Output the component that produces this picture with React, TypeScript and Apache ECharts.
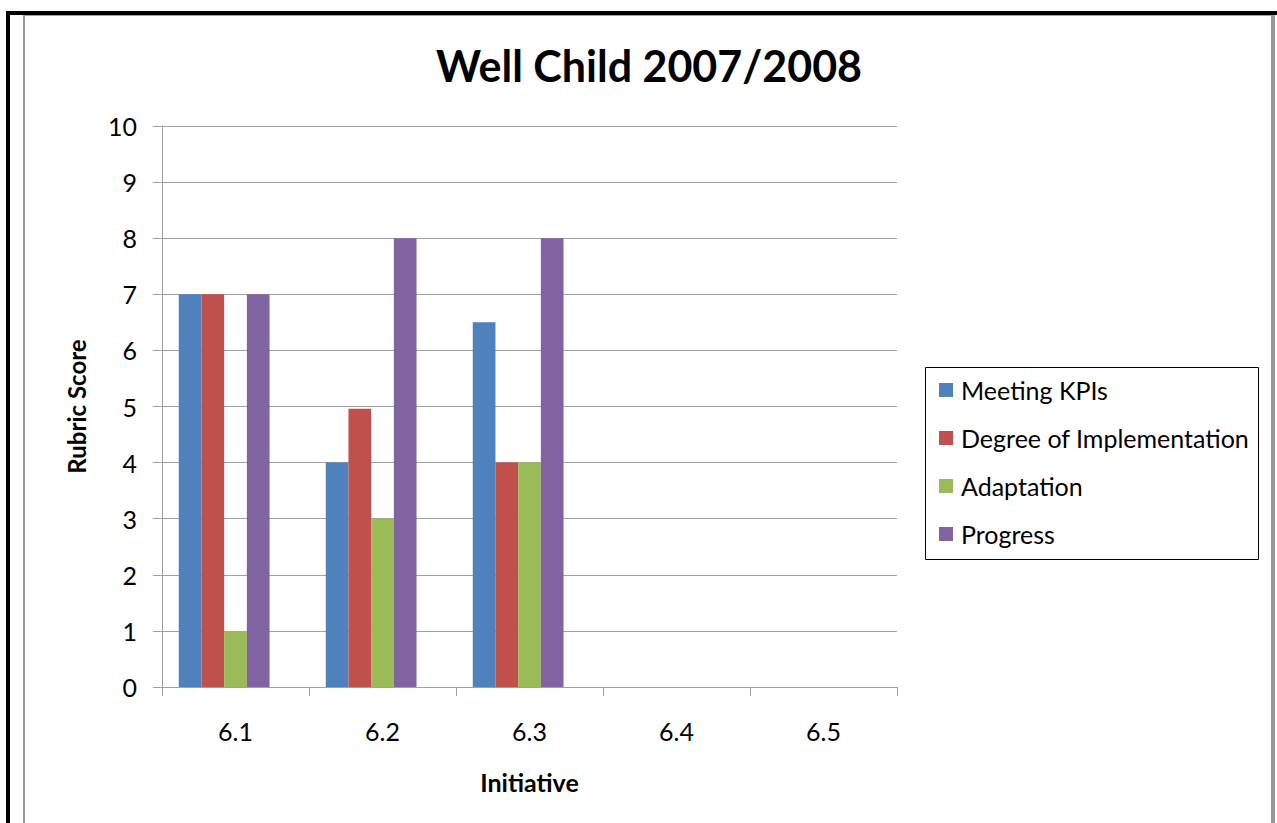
import React, { useEffect, useRef } from "react";
import * as echarts from "echarts";

// Initiatives along the category axis
const initiatives = ["6.1", "6.2", "6.3", "6.4", "6.5"];

// Rubric scores per measure (6.4 and 6.5 not yet scored)
const meetingKpis = [7, 4, 6.5, null, null];
const degreeOfImplementation = [7, 4.96, 4, null, null];
const adaptation = [1, 3, 4, null, null];
const progress = [7, 8, 8, null, null];
// fifth measure slot, reserved but still empty
const reserved = [null, null, null, null, null];

const seriesNames = ["Meeting KPIs", "Degree of Implementation", "Adaptation", "Progress"];
const seriesColors = ["#4F81BD", "#C0504D", "#9BBB59", "#8064A2", "#4BACC6"];

const FONT = "Lato";
const TEXT_SIZE = 25;

export default function App() {
  const ref = useRef<HTMLDivElement>(null);

  useEffect(() => {
    if (!ref.current) return;
    const chart = echarts.init(ref.current, null, { renderer: "svg" });
    const values = [meetingKpis, degreeOfImplementation, adaptation, progress, reserved];
    const names = [...seriesNames, "Reserved"];

    chart.setOption({
      animation: false,
      backgroundColor: "#ffffff",
      textStyle: { fontFamily: FONT },
      graphic: [
        // sheet frame
        { type: "rect", shape: { x: 6, y: 11, width: 1271, height: 4 }, style: { fill: "#000" }, silent: true },
        { type: "rect", shape: { x: 6, y: 11, width: 4, height: 812 }, style: { fill: "#000" }, silent: true },
        { type: "rect", shape: { x: 23, y: 15, width: 1252, height: 1 }, style: { fill: "#a0a0a0" }, silent: true },
        { type: "rect", shape: { x: 23, y: 15, width: 2, height: 808 }, style: { fill: "#999" }, silent: true },
        { type: "rect", shape: { x: 1271, y: 15, width: 4, height: 808 }, style: { fill: "#999" }, silent: true },
        // legend box
        {
          type: "rect",
          shape: { x: 925.5, y: 367.5, width: 333, height: 192 },
          style: { fill: "none", stroke: "#000", lineWidth: 1 },
          silent: true,
        },
        // chart title
        {
          type: "text",
          x: 649,
          y: 65,
          style: {
            text: "Well Child 2007/2008",
            fontFamily: FONT,
            fontWeight: "bold",
            fontSize: 43,
            fill: "#000",
            textAlign: "center",
            textVerticalAlign: "middle",
          },
        },
      ],
      legend: {
        orient: "vertical",
        left: 939,
        top: 376,
        padding: 0,
        itemWidth: 14,
        itemHeight: 14,
        itemGap: 20,
        icon: "rect",
        textStyle: { fontFamily: FONT, fontSize: TEXT_SIZE, color: "#000", lineHeight: 28, padding: [0, 0, 0, 3] },
        data: seriesNames,
      },
      grid: { left: 162, top: 126, width: 735, height: 561, containLabel: false },
      xAxis: {
        type: "category",
        data: initiatives,
        name: "Initiative",
        nameLocation: "middle",
        nameGap: 82,
        nameTextStyle: { fontFamily: FONT, fontWeight: "bold", fontSize: TEXT_SIZE, color: "#000" },
        axisLine: { lineStyle: { color: "#a0a0a0", width: 1 } },
        axisTick: { show: true, length: 9, alignWithLabel: false, lineStyle: { color: "#a0a0a0" } },
        axisLabel: { fontFamily: FONT, fontSize: TEXT_SIZE, color: "#000", margin: 31 },
      },
      yAxis: {
        type: "value",
        min: 0,
        max: 10,
        interval: 1,
        name: "Rubric Score",
        nameLocation: "middle",
        nameGap: 74,
        nameTextStyle: { fontFamily: FONT, fontWeight: "bold", fontSize: 24, color: "#000" },
        axisLine: { show: true, lineStyle: { color: "#a0a0a0", width: 1 } },
        axisTick: { show: true, length: 9, lineStyle: { color: "#a0a0a0" } },
        axisLabel: { fontFamily: FONT, fontSize: TEXT_SIZE, color: "#000", margin: 25 },
        splitLine: { show: true, lineStyle: { color: "#a0a0a0", width: 1 } },
      },
      series: names.map((name, i) => ({
        name,
        type: "bar",
        data: values[i],
        barGap: "0%",
        barCategoryGap: "22.8%",
        itemStyle: { color: seriesColors[i] },
      })),
    });

    return () => chart.dispose();
  }, []);

  return (
    <div
      ref={ref}
      style={{ position: "fixed", left: 0, top: 0, width: 1277, height: 823, background: "#fff" }}
    />
  );
}
